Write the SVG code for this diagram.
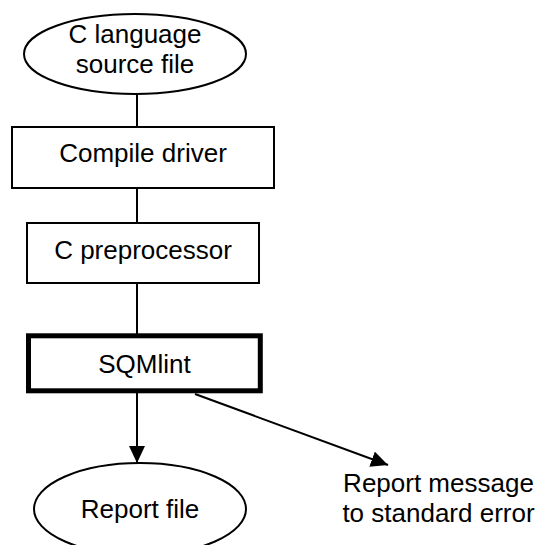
<svg xmlns="http://www.w3.org/2000/svg" width="542" height="545" viewBox="0 0 542 545">
<style>
.shape{fill:#fff;stroke:#000;stroke-width:2}
.thick{fill:#fff;stroke:#000;stroke-width:5}
.conn{stroke:#000;stroke-width:2;fill:none}
text{font-family:"Liberation Sans",Arial,sans-serif;font-size:26px;fill:#000;text-anchor:middle}
</style>
<defs>
<marker id="arr" markerUnits="userSpaceOnUse" markerWidth="18" markerHeight="16" refX="17" refY="8" orient="auto">
<path d="M0,0 L17,8 L0,16 Z" fill="#000"/>
</marker>
</defs>
<rect width="542" height="545" fill="#fff"/>
<g id="connectors">
<line class="conn" x1="137" y1="94" x2="137" y2="127"/>
<line class="conn" x1="137" y1="188" x2="137" y2="223"/>
<line class="conn" x1="137" y1="283" x2="137" y2="334"/>
<line class="conn" x1="137" y1="393" x2="137" y2="463" marker-end="url(#arr)"/>
<line class="conn" x1="195" y1="394" x2="388" y2="465" marker-end="url(#arr)"/>
</g>
<g id="source">
<ellipse class="shape" cx="135" cy="54" rx="111" ry="40"/>
<text x="135" y="43">C language</text>
<text x="135" y="73">source file</text>
</g>
<g id="compile">
<rect class="shape" x="12" y="127" width="262" height="61"/>
<text x="143" y="162">Compile driver</text>
</g>
<g id="preproc">
<rect class="shape" x="27" y="223" width="232" height="60"/>
<text x="143" y="259">C preprocessor</text>
</g>
<g id="sqmlint">
<rect class="thick" x="28.5" y="335.8" width="231.8" height="55"/>
<text x="144.4" y="373">SQMlint</text>
</g>
<g id="report">
<ellipse class="shape" cx="140" cy="509" rx="106" ry="46"/>
<text x="140" y="518">Report file</text>
</g>
<g id="stderr">
<text x="438.5" y="492">Report message</text>
<text x="438.5" y="522">to standard error</text>
</g>
</svg>
